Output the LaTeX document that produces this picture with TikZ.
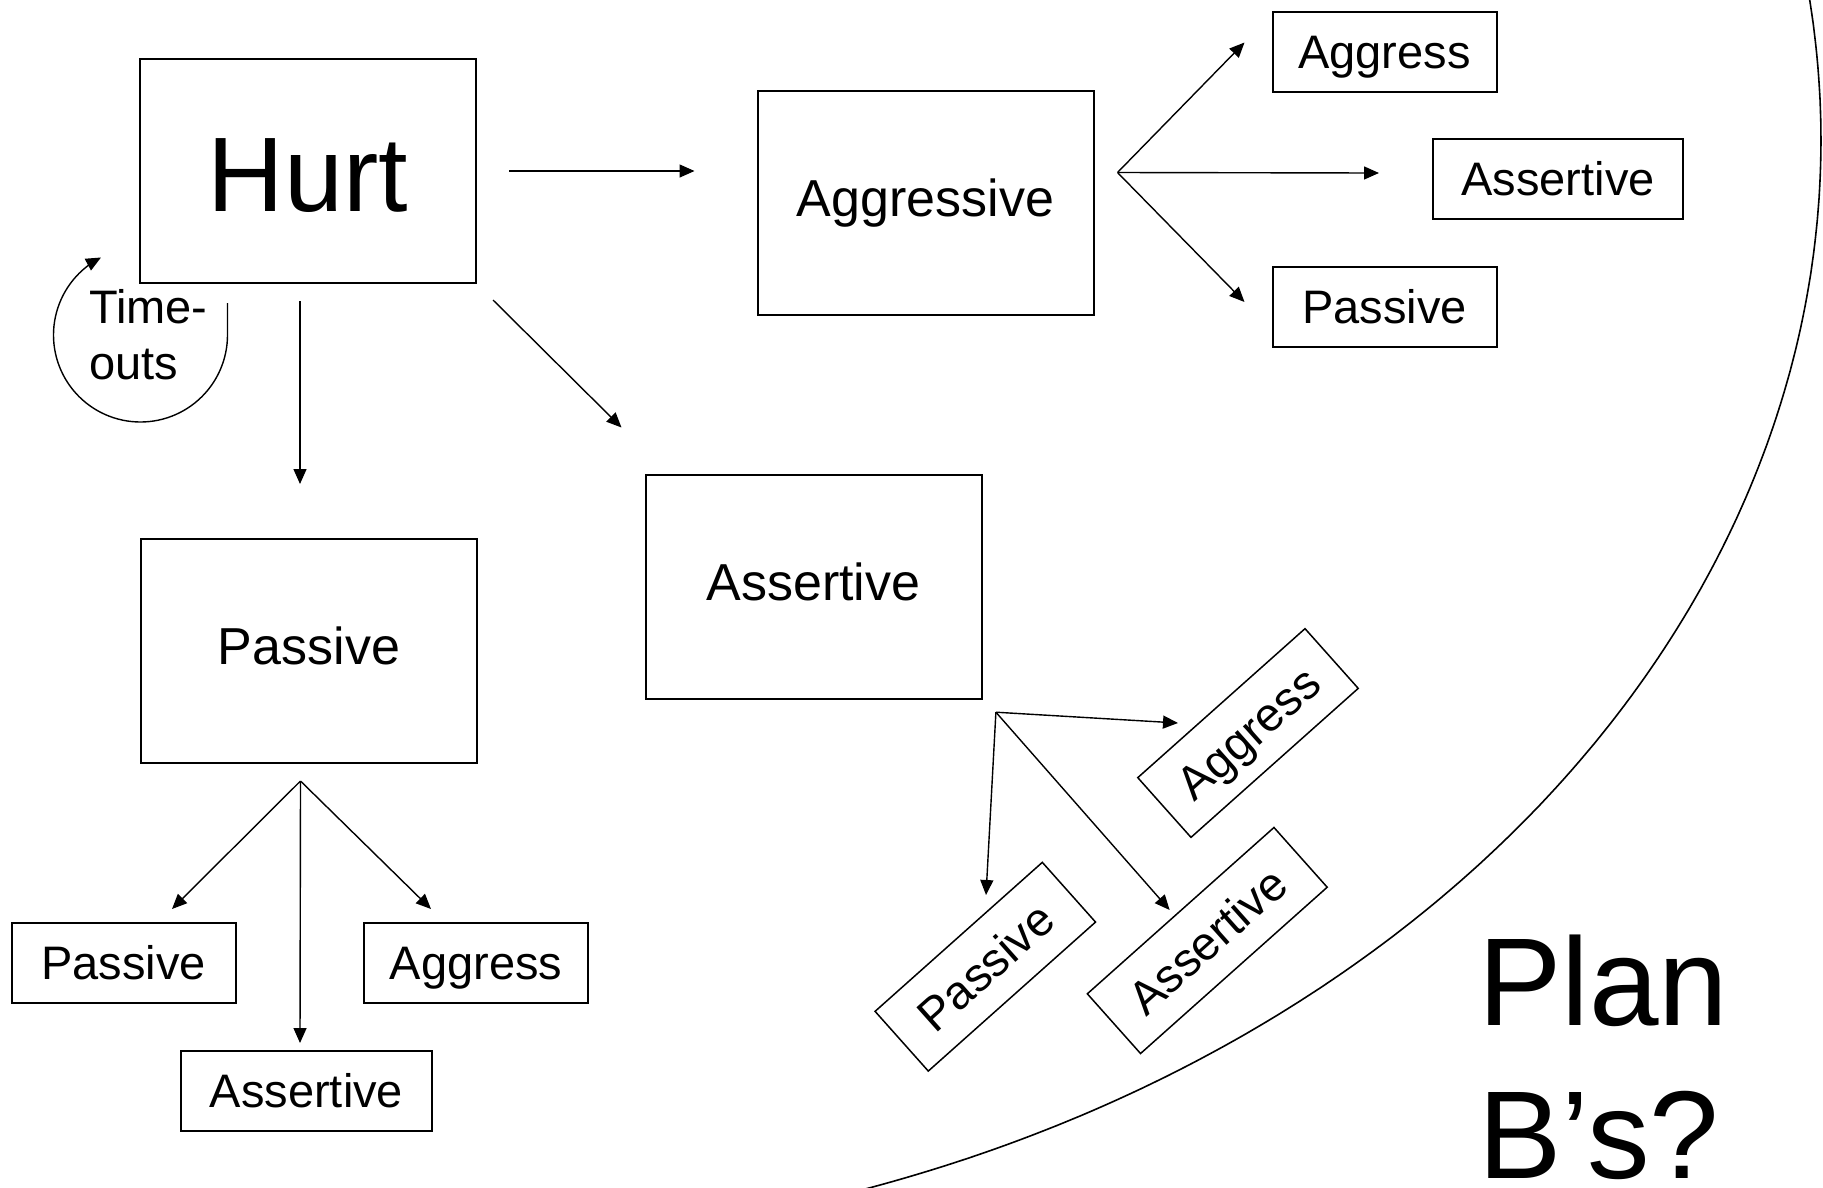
\documentclass[tikz,border=0pt]{standalone}
\usepackage{fontspec}
\setmainfont{Liberation Sans}
\usetikzlibrary{arrows.meta,calc}
\begin{document}
\begin{tikzpicture}[x=1pt,y=-1pt,
  hurtbox/.style={draw, line width=2pt, minimum width=336pt, minimum height=224pt, inner sep=0pt,
    font=\fontsize{106}{120}\selectfont, text height=81.9pt, text depth=0pt},
  bigbox/.style={draw, line width=2pt, minimum width=336pt, minimum height=224pt, inner sep=0pt,
    font=\fontsize{52}{62}\selectfont, text height=37.2pt, text depth=10pt},
  smallbox/.style={draw, line width=2pt, minimum width=224pt, minimum height=80pt, inner sep=0pt,
    font=\fontsize{47}{56}\selectfont, text height=33.7pt, text depth=0pt},
  tiltbox/.style={smallbox, line width=1.5pt, rotate=41.7},
  arr/.style={line width=1.4pt, -{Triangle[length=15pt,width=13pt]}},
  curve/.style={line width=1.6pt},
  plain/.style={inner sep=0pt, align=left, anchor=base west}
]
\useasboundingbox (0,0) rectangle (1823,1187);

% main boxes
\node[hurtbox] (hurt) at (308,171) {Hurt};
\node[bigbox] (aggr) at (925.5,203) {Aggressive};
\node[bigbox] (pass) at (309,651) {Passive};
\node[bigbox] (asrt) at (813.5,586.5) {Assertive};

% after Aggressive
\node[smallbox] (aggrA) at (1384.5,51.5) {Aggress};
\node[smallbox, minimum width=250pt] (aggrB) at (1558,179) {Assertive};
\node[smallbox] (aggrC) at (1384.5,307) {Passive};

% after Passive
\node[smallbox] (passA) at (123.6,963) {Passive};
\node[smallbox] (passC) at (476,963) {Aggress};
\node[smallbox, minimum width=251pt] (passB) at (306.5,1091) {Assertive};

% after Assertive (tilted)
\node[tiltbox] (asrtA) at (1248,733) {Aggress};
\node[tiltbox] (asrtC) at (985.3,966.7) {Passive};
\node[tiltbox, minimum width=250pt] (asrtB) at (1207.25,940.5) {Assertive};

% fork points
\coordinate (fA) at ($(aggr.east)+(23,-30.5)$);
\coordinate (fP) at ($(pass.south)+(-8.5,17)$);
\coordinate (fS) at ($(asrt.south east)+(13.4,12.7)$);

% arrows from Hurt
\draw[arr] ($(hurt.east)+(32,0)$) -- ($(aggr.west)+(-62,-32)$);
\draw[arr] ($(hurt.south)+(-8,17)$) -- ($(pass.north)+(-9,-54)$);
\draw[arr] ($(hurt.south east)+(16,16)$) -- ($(asrt.north west)+(-23,-46)$);

% arrows from Aggressive fork
\draw[arr] (fA) -- ($(aggrA.west)+(-27,-9)$);
\draw[arr] (fA) -- ($(aggrB.west)+(-53,-6)$);
\draw[arr] (fA) -- ($(aggrC.west)+(-27,-5)$);

% arrows from Passive fork
\draw[arr] (fP) -- ($(passA.north)+(48.4,-13)$);
\draw[arr] (fP) -- ($(passB.north)+(-6.5,-7)$);
\draw[arr] (fP) -- ($(passC.north)+(-45,-13)$);

% arrows from Assertive fork
\draw[arr] (fS) -- ($(asrtA.center)+(-70,-10)$);
\draw[arr] (fS) -- ($(asrtC.center)+(0.7,-71.7)$);
\draw[arr] (fS) -- ($(asrtB.center)+(-37.6,-30.5)$);

% time-out loop
\coordinate (ls) at ($(hurt.south)+(-80.5,19)$);
\draw[arr] (ls) -- (227.5,335) -- plot[domain=0:243, samples=82, variable=\t] ({140.5+87*cos(\t)},{335+87*sin(\t)});
\node[plain, font=\fontsize{47}{56}\selectfont] (tout) at (89,379) {Time-\\outs};

% big arc
\begin{scope}
  \clip (0,0) rectangle (1823,1187);
  \draw[curve] plot[domain=-10:80, samples=160, variable=\t] ({422+1399*cos(\t)},{140+1106*sin(\t)});
\end{scope}

\node[plain, font=\fontsize{125}{153}\selectfont] (plan) at (1478,1178) {Plan\\B’s?};
\end{tikzpicture}
\end{document}
